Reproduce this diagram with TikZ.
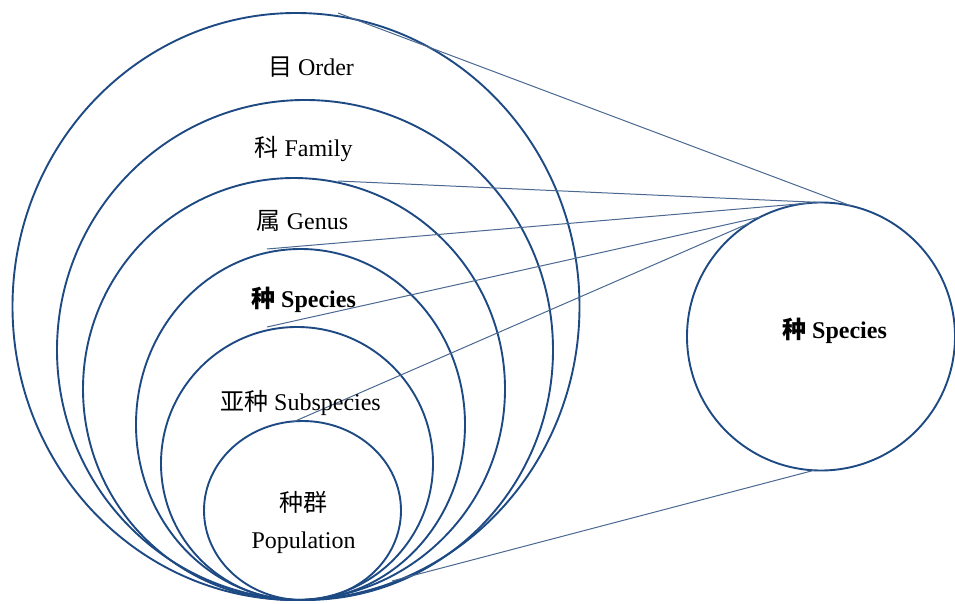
\documentclass[tikz,border=0pt]{standalone}
\usepackage{fontspec}
\setmainfont{Liberation Serif}
\newfontfamily\cjk{Noto Sans CJK SC}
\usetikzlibrary{shapes.geometric}
\definecolor{circblue}{RGB}{30,74,132}
\definecolor{linkblue}{RGB}{74,104,145}
\begin{document}
\begin{tikzpicture}[x=1pt,y=-1pt,
  ring/.style={draw=circblue, line width=1.9pt, ellipse, inner sep=0pt, outer sep=0pt},
  link/.style={draw=linkblue, line width=1pt},
  lbl/.style={font=\fontsize{24}{28}\selectfont, inner sep=0pt, anchor=base}]
\useasboundingbox (0,0) rectangle (955,604);
% nested rings
\node[ring, minimum width=567pt, minimum height=587pt] (order) at (296,306.5) {};
\node[ring, minimum width=496pt, minimum height=500pt] (family) at (305,350) {};
\node[ring, minimum width=422pt, minimum height=422pt] (genus) at (294,389) {};
\node[ring, minimum width=329pt, minimum height=351pt] (species) at (300.5,424.5) {};
\node[ring, minimum width=272pt, minimum height=273pt] (subsp) at (297,463.5) {};
\node[ring, minimum width=197pt, minimum height=179pt] (pop) at (302.5,510.5) {};
% right circle
\node[ring, circle, minimum size=268pt] (sp) at (821,336.5) {};
% line start points
\coordinate (o1) at (338,13);
\coordinate (g1) at (338,181);
\coordinate (s1) at (267,249);
\coordinate (u1) at (267,327);
\coordinate (p1) at (293,422);
\coordinate (b1) at (392,581);
% connectors
\draw[link] (o1) -- (sp.77);
\draw[link] (g1) -- (sp.90);
\draw[link] (s1) -- (sp.96);
\draw[link] (u1) -- (sp.117);
\draw[link] (p1) -- (sp.122);
\draw[link] (b1) -- (sp.267);
% labels
\node[lbl] (tOrder) at (311,76) {{\cjk 目} Order};
\node[lbl] (tFamily) at (303.5,156.5) {{\cjk 科} Family};
\node[lbl] (tGenus) at (302.5,229) {{\cjk 属} Genus};
\node[lbl] (tSpecies) at (303.5,307.5) {\bfseries{\cjk 种} Species};
\node[lbl] (tSub) at (300.5,410) {{\cjk 亚种} Subspecies};
\node[lbl] (tPopA) at (303.5,511) {{\cjk 种群}};
\node[lbl] (tPopB) at (303.5,548) {Population};
\node[lbl] (tRight) at (834.5,338) {\bfseries{\cjk 种} Species};
\end{tikzpicture}
\end{document}
